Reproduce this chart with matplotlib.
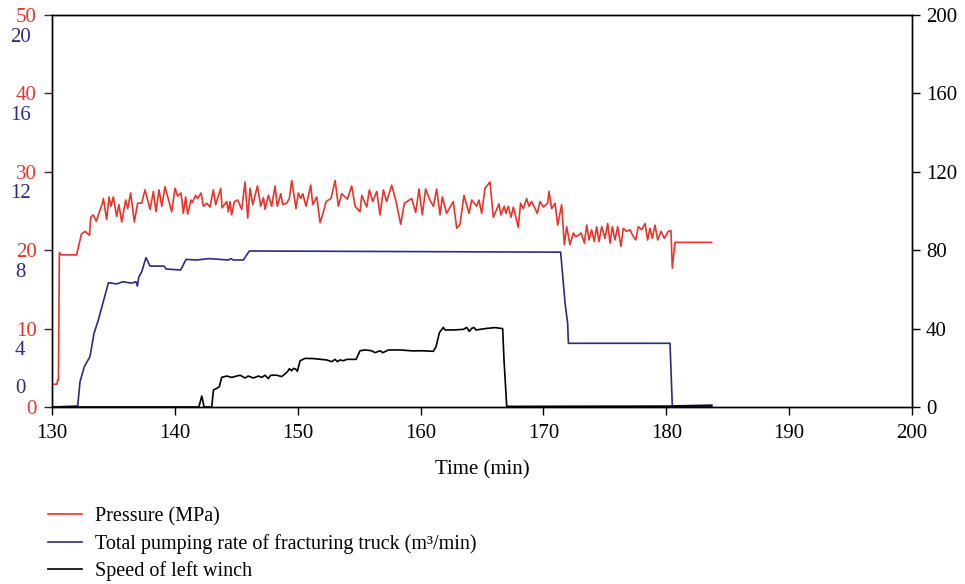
import matplotlib
matplotlib.use('Agg')
import matplotlib.pyplot as plt
from matplotlib.transforms import blended_transform_factory, offset_copy

# (time min, pressure MPa)
pressure = [
    (130.0, 2.9), (130.4, 2.9), (130.45, 3.4), (130.52, 3.4), (130.6, 19.7), (130.75, 19.4),
    (132.0, 19.4), (132.4, 22.1), (132.7, 22.4), (133.05, 21.9), (133.15, 24.2), (133.35, 24.5),
    (133.6, 23.7), (134.10, 26.0), (134.18, 26.6), (134.45, 23.9), (134.64, 26.8), (134.80, 25.6),
    (134.99, 26.8), (135.26, 24.3), (135.45, 25.8), (135.67, 23.6), (136.00, 26.4), (136.16, 25.3),
    (136.40, 27.3), (136.70, 23.6), (136.97, 26.0), (137.30, 26.0), (137.57, 27.7), (137.98, 25.2),
    (138.25, 27.5), (138.46, 24.9), (138.71, 27.7), (138.93, 25.6), (139.20, 28.1), (139.74, 24.9),
    (140.01, 27.9), (140.23, 26.9), (140.50, 27.3), (140.69, 24.7), (140.88, 26.8), (141.04, 24.6),
    (141.31, 26.4), (141.42, 26.1), (141.69, 27.0), (141.86, 26.6), (142.13, 27.3), (142.32, 25.6),
    (142.59, 26.0), (142.86, 25.5), (143.13, 27.7), (143.32, 25.8), (143.73, 27.9), (143.84, 25.4),
    (144.22, 26.2), (144.35, 24.9), (144.49, 26.2), (144.62, 24.5), (144.84, 26.2), (145.11, 26.4),
    (145.44, 25.2), (145.71, 28.7), (145.93, 24.1), (146.12, 27.9), (146.34, 25.8), (146.72, 28.2),
    (146.99, 25.6), (147.21, 26.7), (147.34, 25.2), (147.61, 27.0), (147.88, 25.6), (148.15, 28.2),
    (148.34, 25.6), (148.62, 27.2), (148.78, 25.8), (149.10, 26.0), (149.32, 26.6), (149.51, 28.9),
    (149.86, 25.3), (150.05, 27.3), (150.24, 26.6), (150.41, 27.2), (150.68, 25.6), (151.06, 28.3),
    (151.22, 25.8), (151.55, 26.8), (151.82, 23.5), (152.09, 24.9), (152.31, 26.2), (152.71, 26.6),
    (153.04, 28.9), (153.31, 25.6), (153.58, 27.2), (154.04, 26.5), (154.39, 28.2), (154.67, 25.6),
    (155.07, 24.9), (155.21, 27.0), (155.62, 25.5), (155.83, 27.7), (156.10, 26.2), (156.43, 27.5),
    (156.70, 24.5), (156.97, 27.7), (157.24, 26.2), (157.65, 28.3), (158.00, 26.2), (158.38, 23.3),
    (158.68, 26.0), (159.09, 26.4), (159.27, 26.6), (159.60, 24.8), (159.87, 27.8), (160.14, 24.5),
    (160.41, 27.8), (160.76, 26.4), (161.04, 25.6), (161.31, 27.8), (161.58, 24.5), (161.77, 26.8),
    (162.12, 24.7), (162.66, 26.2), (162.94, 22.8), (163.21, 23.3), (163.53, 27.0), (163.94, 24.7),
    (164.16, 26.4), (164.56, 25.6), (164.75, 26.4), (164.97, 24.7), (165.24, 27.9), (165.65, 28.7),
    (165.92, 24.2), (166.38, 25.9), (166.54, 24.5), (166.81, 25.6), (166.95, 24.7), (167.14, 25.6),
    (167.36, 24.2), (167.55, 25.5), (167.95, 22.9), (168.14, 26.0), (168.36, 25.3), (168.63, 26.6),
    (168.82, 25.6), (169.04, 26.2), (169.26, 25.5), (169.50, 24.7), (169.72, 26.2), (169.99, 25.5),
    (170.34, 26.0), (170.45, 27.5), (170.67, 25.3), (170.94, 26.0), (171.16, 23.2), (171.48, 25.8),
    (171.70, 20.7), (171.89, 23.0), (172.16, 20.7), (172.43, 22.2), (172.62, 21.7), (172.84, 21.9),
    (173.06, 22.2), (173.33, 20.9), (173.52, 23.2), (173.71, 21.3), (173.92, 22.6), (174.14, 21.1),
    (174.33, 23.0), (174.52, 21.1), (174.74, 23.0), (175.01, 21.5), (175.23, 23.4), (175.42, 20.9),
    (175.61, 23.0), (175.82, 21.3), (176.04, 23.0), (176.31, 20.5), (176.50, 22.8), (176.77, 22.4),
    (177.04, 22.6), (177.26, 21.9), (177.51, 21.3), (177.72, 23.0), (177.99, 22.6), (178.27, 23.4),
    (178.48, 21.3), (178.67, 22.8), (178.86, 21.5), (179.08, 23.2), (179.30, 21.3), (179.57, 22.4),
    (179.84, 21.5), (180.16, 22.4), (180.38, 22.5), (180.49, 17.7), (180.71, 21.0), (183.69, 21.0),
]

# (time min, total pumping rate m3/min)
rate = [
    (130.0, 0.0), (132.09, 0.05), (132.28, 1.29), (132.63, 2.06), (133.09, 2.57), (133.42, 3.76),
    (133.77, 4.44), (134.59, 6.34), (135.27, 6.28), (135.75, 6.39), (136.48, 6.32), (136.83, 6.39),
    (136.95, 6.17), (137.06, 6.62), (137.30, 6.90), (137.65, 7.62), (137.98, 7.19), (139.12, 7.19),
    (139.28, 7.04), (140.47, 6.99), (140.91, 7.53), (141.78, 7.50), (142.73, 7.57), (144.35, 7.50),
    (144.54, 7.57), (144.76, 7.50), (145.57, 7.50), (146.06, 7.96), (171.40, 7.90), (171.62, 6.31),
    (171.76, 5.29), (171.97, 4.27), (172.03, 3.25), (180.30, 3.25), (180.49, 0.05), (183.70, 0.1),
]

# (time min, speed of left winch)
speed = [
    (130.0, 0.0), (141.95, 0.0), (142.19, 5.6), (142.38, 0.0), (143.0, 0.0), (143.14, 8.7),
    (143.41, 9.5), (143.62, 10.4), (143.81, 15.1), (144.22, 15.8), (144.63, 15.1), (145.03, 15.8),
    (145.31, 16.2), (145.71, 14.8), (145.98, 15.8), (146.39, 14.8), (146.80, 15.8), (147.07, 15.1),
    (147.34, 16.2), (147.61, 14.5), (147.80, 16.2), (148.29, 16.2), (148.70, 15.5), (149.16, 18.0),
    (149.32, 19.5), (149.51, 18.5), (149.65, 19.7), (149.86, 19.2), (149.97, 18.2), (150.19, 23.6),
    (150.60, 24.8), (151.27, 24.7), (152.36, 24.0), (152.77, 23.1), (153.04, 24.3), (153.23, 23.1),
    (153.44, 24.0), (153.72, 23.6), (153.99, 24.3), (154.75, 24.3), (155.07, 28.7), (155.48, 29.1),
    (156.02, 28.7), (156.29, 27.7), (156.70, 28.7), (156.92, 27.7), (157.38, 29.1), (158.33, 29.1),
    (159.41, 28.6), (160.09, 28.7), (161.04, 28.4), (161.26, 30.8), (161.53, 37.9), (161.85, 40.6),
    (161.99, 39.3), (162.67, 39.3), (163.48, 39.6), (163.75, 40.6), (163.97, 38.6), (164.16, 40.1),
    (164.35, 40.6), (164.51, 39.3), (165.38, 40.1), (166.06, 40.5), (166.68, 40.0), (166.79, 23.9),
    (167.01, 0.3), (183.70, 0.5),
]

time_ticks = [130, 140, 150, 160, 170, 180, 190, 200]
pressure_ticks = [0, 10, 20, 30, 40, 50]
rate_ticks = [0, 4, 8, 12, 16, 20]
speed_ticks = [0, 40, 80, 120, 160, 200]

RED = '#e8352c'
BLUE = '#2b2b80'
FS = 15
LFS = 14.5

plt.rcParams['font.family'] = ['Liberation Serif', 'DejaVu Serif']

fig = plt.figure(figsize=(9.65, 5.84), dpi=100)
ax = fig.add_axes([0.0539, 0.3031, 0.8912, 0.6712])
ax_rate = ax.twinx()
ax_speed = ax.twinx()

pt, pv = zip(*pressure)
rt, rv = zip(*rate)
st, sv = zip(*speed)

l1, = ax.plot(pt, pv, color=RED, lw=1.2, label='Pressure (MPa)')
l2, = ax_rate.plot(rt, rv, color=BLUE, lw=1.2,
                   label='Total pumping rate of fracturing truck (m³/min)')
l3, = ax_speed.plot(st, sv, color='black', lw=1.2, label='Speed of left winch')

ax.set_xlim(130, 200)
ax.set_ylim(0, 50)
ax_rate.set_ylim(0, 20)
ax_speed.set_ylim(0, 200)
ax_rate.set_axis_off()

ax.set_xticks(time_ticks)
ax.set_yticks(pressure_ticks)
ax_speed.set_yticks(speed_ticks)
ax.tick_params(axis='x', direction='out', length=6, width=1, labelsize=FS, pad=6.5)
ax.tick_params(axis='y', direction='out', length=6, width=1, labelsize=FS, pad=5,
               labelcolor=RED, color='#4a1f1f')
ax_speed.tick_params(axis='y', direction='out', length=6, width=1, labelsize=FS, pad=4)
for a in (ax, ax_speed):
    for sp in a.spines.values():
        sp.set_linewidth(1.0)

# blue labels for the pumping-rate scale, sitting under the red ones
trans = blended_transform_factory(ax.transAxes, ax_rate.transData)
for q in rate_ticks:
    dy = 18 if q == 0 else -22
    ax.text(-0.037, q, str(q), color=BLUE, fontsize=FS, ha='center', va='center',
            transform=offset_copy(trans, fig=fig, y=dy, units='dots'), clip_on=False)

ax.set_xlabel('Time (min)', fontsize=FS, labelpad=12)

fig.legend([l1, l2, l3], [l1.get_label(), l2.get_label(), l3.get_label()],
           loc='upper left', bbox_to_anchor=(0.0497, 0.132), frameon=False,
           fontsize=LFS, handlelength=1.7, handletextpad=0.65, labelspacing=0.38,
           borderpad=0, borderaxespad=0)

fig.savefig('out.png', dpi=100)
